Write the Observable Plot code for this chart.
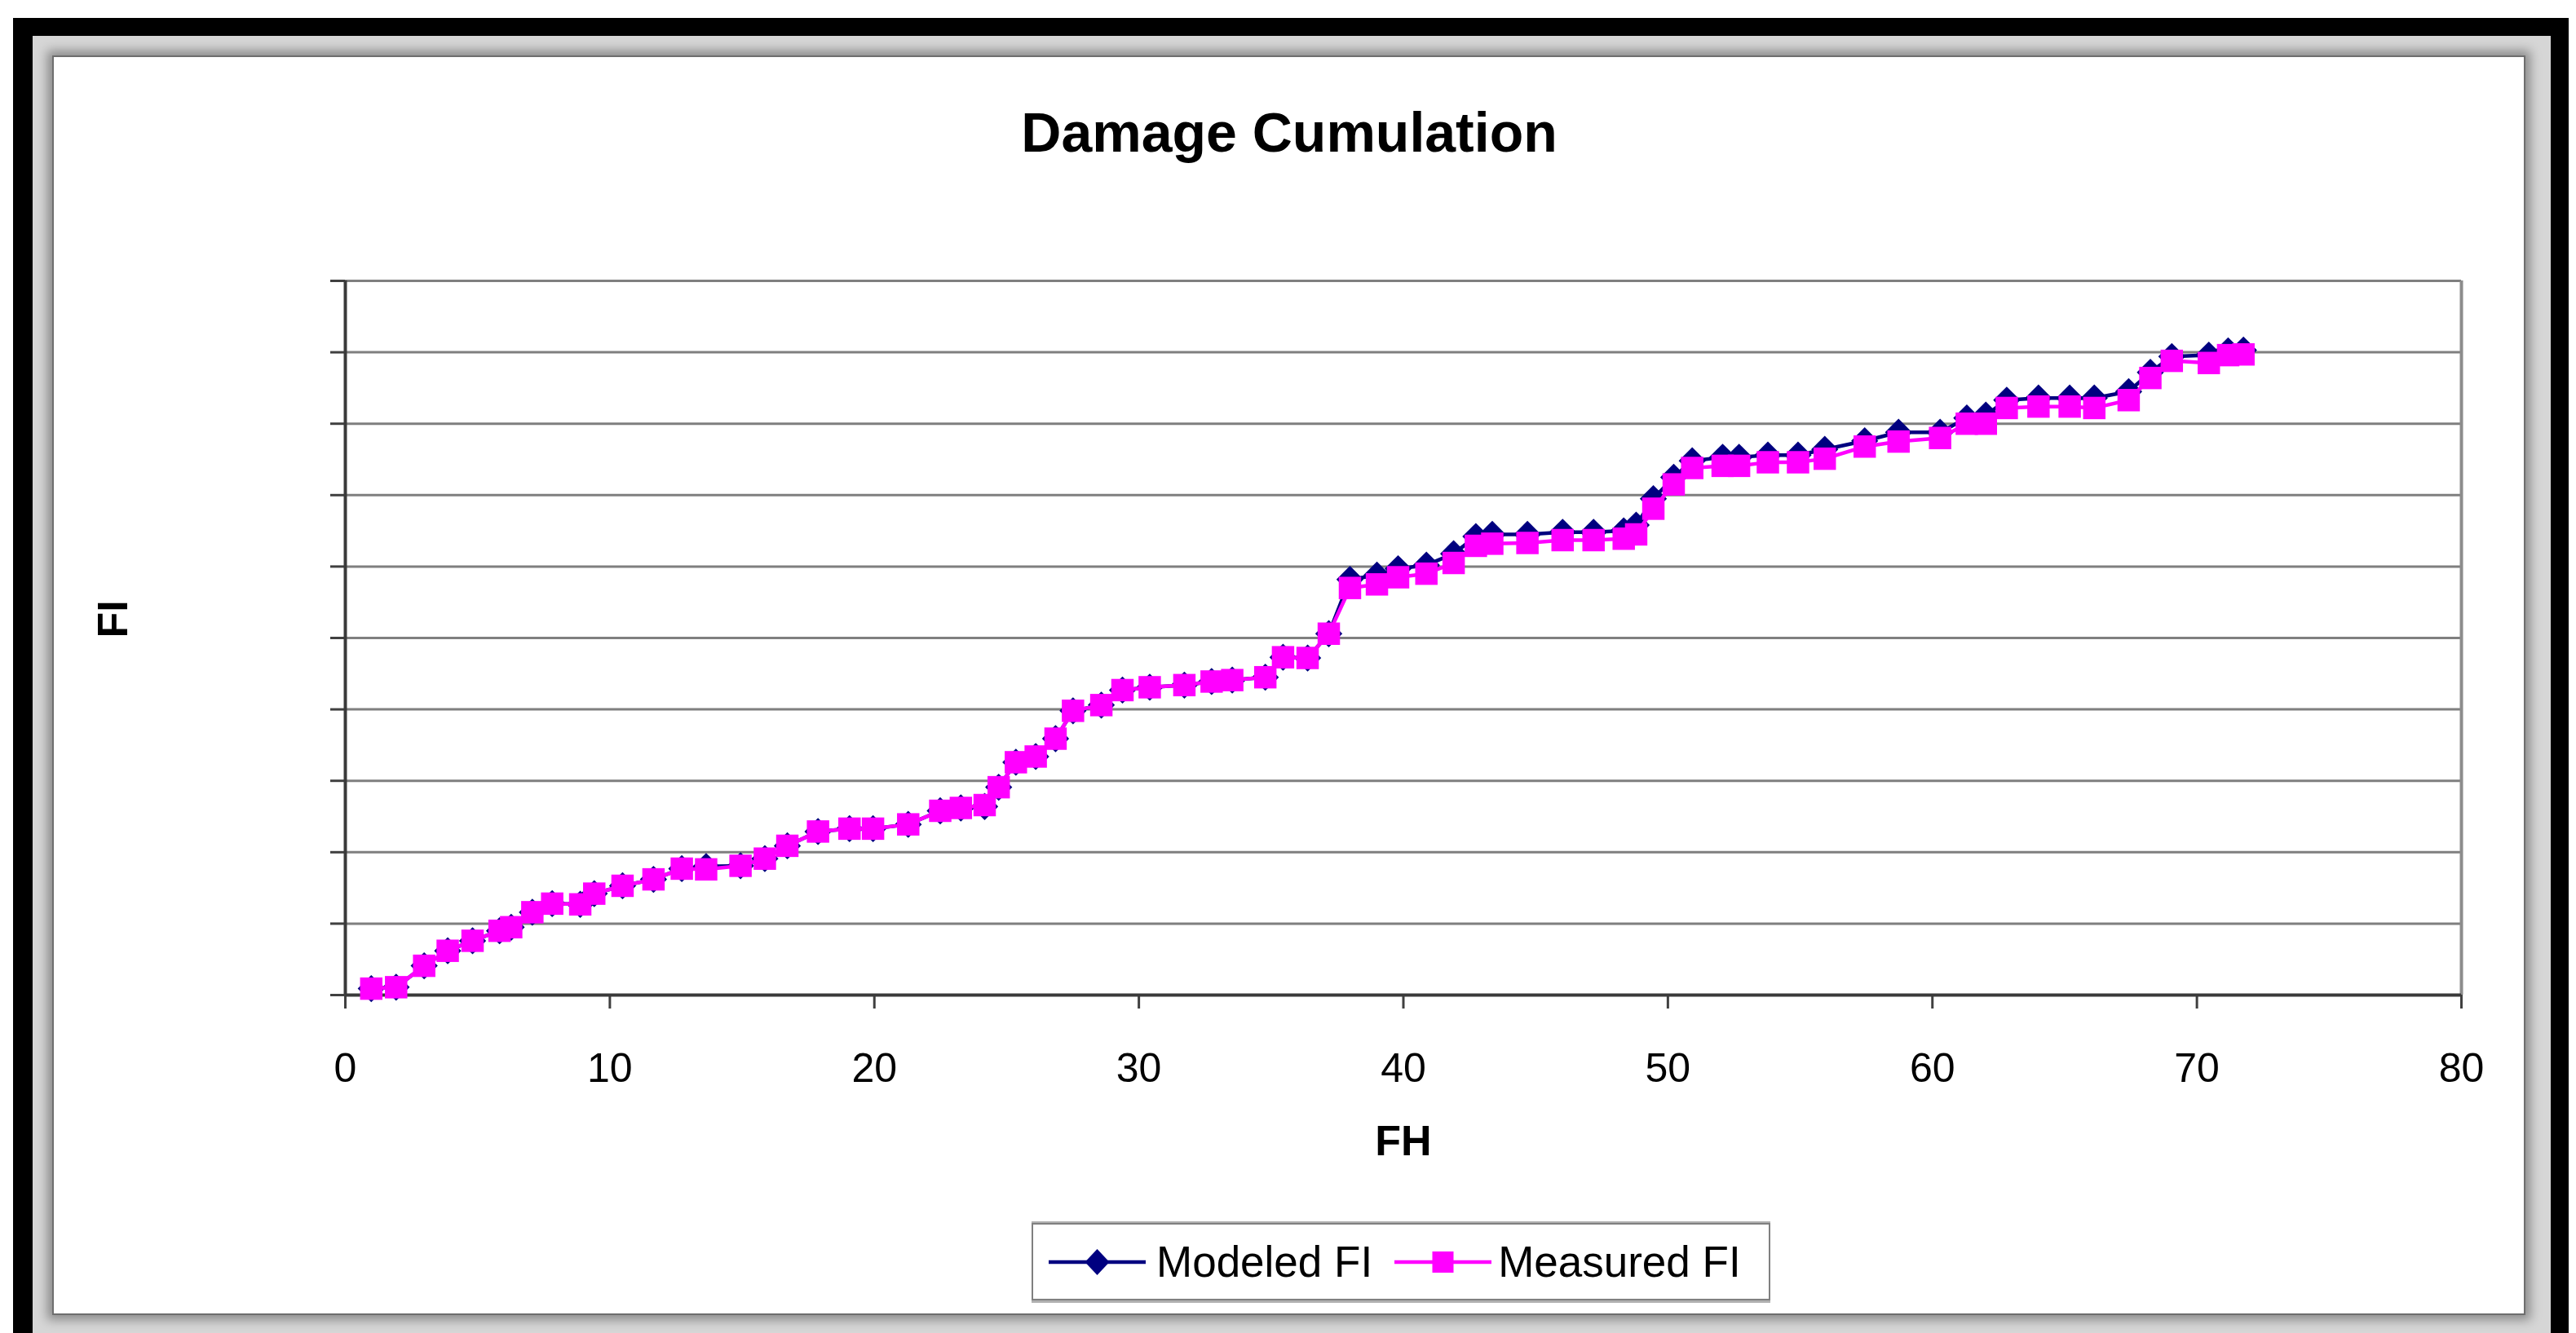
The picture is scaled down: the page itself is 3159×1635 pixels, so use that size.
<!DOCTYPE html>
<html>
<head>
<meta charset="utf-8">
<script src="https://cdn.jsdelivr.net/npm/d3@7"></script>
<script src="https://cdn.jsdelivr.net/npm/@observablehq/plot@0.6"></script>
<style>
  html, body { margin: 0; padding: 0; }
  body { width: 3159px; height: 1635px; position: relative; overflow: hidden; background: #fff;
         font-family: "Liberation Sans", Arial, sans-serif; }
  #outer { position: absolute; left: 16px; top: 22px; width: 3134px; height: 1640px; background: #000; }
  #frame { position: absolute; left: 40px; top: 44px; width: 3088px; height: 1620px; background: #d6d6d6; }
  #panel { position: absolute; left: 64px; top: 68px; width: 3033px; height: 1545px; background: #fff;
           border: 2px solid #6e6e6e; box-sizing: border-box;
           box-shadow: 0 0 12px 6px rgba(0,0,0,0.35); }
  #title { position: absolute; left: 64px; width: 3034px; top: 128px; text-align: center;
           font-size: 68px; line-height: 68px; font-weight: bold; color: #000; }
  #chart { position: absolute; left: 64px; top: 240px; }
  #legend { position: absolute; left: 1265px; top: 1500px; width: 906px; height: 95px; box-sizing: border-box;
            border: 2px solid #808080; box-shadow: 0 -2px 0 #b0b0b0, 0 3px 0 #b0b0b0; background: #fff;
            display: flex; align-items: center; font-size: 53px; color: #000; white-space: nowrap; }
  #legend svg { display: block; }
</style>
</head>
<body>
<div id="outer"></div>
<div id="frame"></div>
<div id="panel"></div>
<div id="title">Damage Cumulation</div>
<div id="chart"></div>
<div id="legend"></div>
<script>
// ---- data ----
const FH = [0.98, 1.92, 2.98, 3.87, 4.81, 5.83, 6.27, 7.07, 7.82, 8.88,
            9.41, 10.48, 11.65, 12.72, 13.64, 14.94, 15.86, 16.71, 17.87, 19.06,
            19.95, 21.28, 22.49, 23.27, 24.17, 24.7, 25.35, 26.1, 26.85, 27.51,
            28.58, 29.38, 30.41, 31.72, 32.75, 33.53, 34.78, 35.45, 36.38, 37.18,
            37.98, 39.0, 39.8, 40.87, 41.9, 42.74, 43.36, 44.69, 46.02, 47.19,
            48.33, 48.8, 49.45, 50.22, 50.92, 52.07, 52.69, 53.78, 54.92, 55.93,
            57.44, 58.72, 60.29, 61.3, 62.02, 62.81, 64.01, 65.19, 66.12, 67.42,
            68.24, 69.05, 70.45, 71.18, 71.76];
const measuredFI = [0.09, 0.11, 0.41, 0.62, 0.76, 0.90, 0.95, 1.16, 1.28, 1.27,
                    1.42, 1.53, 1.62, 1.77, 1.76, 1.81, 1.91, 2.09, 2.29, 2.33,
                    2.33, 2.39, 2.58, 2.62, 2.66, 2.91, 3.26, 3.34, 3.59, 3.98,
                    4.06, 4.27, 4.31, 4.34, 4.39, 4.41, 4.45, 4.73, 4.72, 5.06,
                    5.70, 5.75, 5.85, 5.90, 6.05, 6.29, 6.32, 6.33, 6.37, 6.37,
                    6.39, 6.45, 6.81, 7.15, 7.38, 7.41, 7.41, 7.46, 7.46, 7.51,
                    7.68, 7.75, 7.80, 8.00, 8.00, 8.22, 8.24, 8.24, 8.22, 8.33,
                    8.64, 8.88, 8.85, 8.96, 8.97];
const modeledFI = [0.09, 0.11, 0.41, 0.62, 0.76, 0.90, 0.95, 1.16, 1.28, 1.27,
                   1.42, 1.53, 1.62, 1.77, 1.80, 1.81, 1.91, 2.09, 2.29, 2.33,
                   2.33, 2.39, 2.58, 2.62, 2.64, 2.91, 3.26, 3.34, 3.59, 3.98,
                   4.06, 4.27, 4.31, 4.34, 4.39, 4.41, 4.45, 4.73, 4.72, 5.06,
                   5.82, 5.88, 5.97, 6.02, 6.18, 6.42, 6.45, 6.45, 6.48, 6.48,
                   6.50, 6.58, 6.95, 7.25, 7.48, 7.53, 7.53, 7.56, 7.56, 7.64,
                   7.76, 7.88, 7.88, 8.08, 8.12, 8.33, 8.36, 8.36, 8.36, 8.45,
                   8.72, 8.94, 8.96, 9.02, 9.03];
const xTickValues = [0, 10, 20, 30, 40, 50, 60, 70, 80];
const yTickValues = [0, 1, 2, 3, 4, 5, 6, 7, 8, 9, 10];
const seriesNames = ["Modeled FI", "Measured FI"];
const seriesColors = ["#000080", "#FF00FF"];

const modeled = FH.map((x, i) => ({FH: x, FI: modeledFI[i]}));
const measured = FH.map((x, i) => ({FH: x, FI: measuredFI[i]}));

const chart = Plot.plot({
  width: 3034,
  height: 1200,
  marginLeft: 359,
  marginRight: 80,
  marginTop: 104,
  marginBottom: 220,
  x: {domain: [0, 80], label: null},
  y: {domain: [0, 10], label: null},
  style: {fontFamily: "'Liberation Sans', Arial, sans-serif", background: "transparent", color: "#000", overflow: "visible"},
  marks: [
    Plot.gridY(yTickValues.filter(v => v > 0), {stroke: "#7f7f7f", strokeOpacity: 1, strokeWidth: 3}),
    Plot.ruleX([80], {stroke: "#8c8c8c", strokeWidth: 4}),
    Plot.axisY(yTickValues, {tickSize: 18, tickFormat: () => "", stroke: "#404040", strokeWidth: 3, label: null}),
    Plot.axisX(xTickValues, {tickSize: 17, tickPadding: 54, fontSize: 50, stroke: "#404040", strokeWidth: 3, fill: "#000", label: null}),
    Plot.ruleX([0], {stroke: "#3a3a3a", strokeWidth: 4}),
    Plot.ruleY([0], {stroke: "#3a3a3a", strokeWidth: 4}),
    Plot.line(modeled, {x: "FH", y: "FI", stroke: seriesColors[0], strokeWidth: 4.5}),
    Plot.dot(modeled, {x: "FH", y: "FI", symbol: d3.symbolDiamond2, r: 15, fill: seriesColors[0], stroke: "none"}),
    Plot.line(measured, {x: "FH", y: "FI", stroke: seriesColors[1], strokeWidth: 4.5}),
    Plot.dot(measured, {x: "FH", y: "FI", symbol: "square", r: 15.5, fill: seriesColors[1], stroke: "none"}),
    Plot.text(["FI"], {text: d => d, frameAnchor: "left", dx: -284, rotate: -90, fontSize: 52, fontWeight: "bold", fill: "#000"}),
    Plot.text(["FH"], {text: d => d, frameAnchor: "bottom", dy: 196, fontSize: 52, fontWeight: "bold", fill: "#000"})
  ]
});
document.getElementById("chart").appendChild(chart);

// ---- legend ----
const legend = document.getElementById("legend");
function swatch(color, kind) {
  const ns = "http://www.w3.org/2000/svg";
  const svg = document.createElementNS(ns, "svg");
  svg.setAttribute("width", 119); svg.setAttribute("height", 40);
  const line = document.createElementNS(ns, "line");
  line.setAttribute("x1", 0); line.setAttribute("x2", 119);
  line.setAttribute("y1", 20); line.setAttribute("y2", 20);
  line.setAttribute("stroke", color); line.setAttribute("stroke-width", 4.5);
  svg.appendChild(line);
  const m = document.createElementNS(ns, "path");
  if (kind === "diamond") m.setAttribute("d", "M59.5,4 L74.5,20 L59.5,36 L44.5,20 Z");
  else m.setAttribute("d", "M46.5,7 H72.5 V33 H46.5 Z");
  m.setAttribute("fill", color);
  svg.appendChild(m);
  return svg;
}
const items = [
  {name: seriesNames[0], color: seriesColors[0], kind: "diamond", ml: 19, gap: 13},
  {name: seriesNames[1], color: seriesColors[1], kind: "square", ml: 27, gap: 8}
];
items.forEach(it => {
  const s = swatch(it.color, it.kind);
  s.style.marginLeft = it.ml + "px";
  legend.appendChild(s);
  const t = document.createElement("span");
  t.textContent = it.name;
  t.style.marginLeft = it.gap + "px";
  legend.appendChild(t);
});
</script>
</body>
</html>
